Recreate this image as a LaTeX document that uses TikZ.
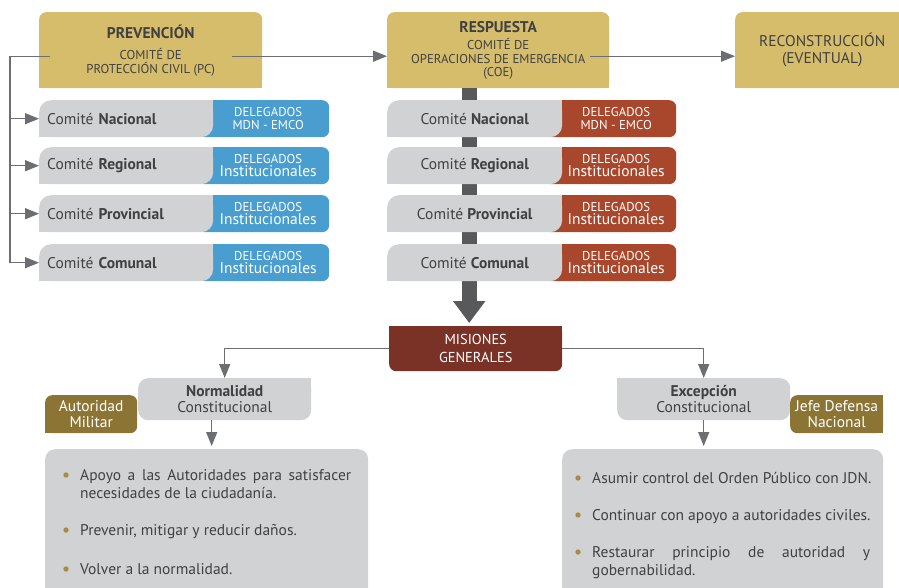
\documentclass[tikz,border=0pt]{standalone}
\usepackage{fontspec}
\setmainfont{PT Sans}
\usetikzlibrary{arrows.meta}

\definecolor{gold}{HTML}{D5BD6C}
\definecolor{boxgray}{HTML}{D1D2D4}
\definecolor{delblue}{HTML}{499ECF}
\definecolor{delred}{HTML}{A8472C}
\definecolor{misred}{HTML}{7A3126}
\definecolor{olive}{HTML}{8C7434}
\definecolor{dot}{HTML}{A88C45}
\definecolor{ink}{HTML}{414042}
\definecolor{wire}{HTML}{6D6E71}
\definecolor{bar}{HTML}{58595B}

\newcommand{\fsz}[2]{\fontsize{#1}{#2}\selectfont}

\begin{document}
\begin{tikzpicture}[x=1pt,y=-1pt,text=ink,
  phase/.style={fill=gold, rounded corners=7pt, anchor=north west, minimum height=76pt, inner sep=0pt, align=center, font=\fsz{12.8}{13.5}},
  comite/.style={fill=boxgray, rounded corners=12pt, anchor=north west, minimum height=37pt, inner ysep=0pt, font=\fsz{15.5}{17}},
  delbox/.style={rounded corners=7pt, anchor=north west, minimum width=131pt, minimum height=37pt, inner sep=0pt},
  deltext/.style={text=white, align=center, inner sep=0pt, font=\fsz{12.8}{13.5}},
  estado/.style={fill=boxgray, rounded corners=10pt, anchor=north west, minimum width=173pt, minimum height=42pt, inner sep=0pt, align=center, font=\fsz{15.5}{16}},
  mando/.style={fill=olive, text=white, rounded corners=7pt, anchor=north west, minimum width=92pt, minimum height=38pt, inner sep=0pt, align=center, font=\fsz{15.5}{15.5}},
  lista/.style={fill=boxgray, rounded corners=10pt, anchor=north west, minimum height=150pt},
  item/.style={anchor=base west, inner sep=0pt, font=\fsz{15.5}{18}},
  conn/.style={draw=wire, line width=1.3pt, -{Triangle[length=14pt,width=11pt]}},
  rail/.style={draw=wire, line width=1.3pt}
]
\useasboundingbox (0,0) rectangle (899,587);

% fases
\node[phase, minimum width=223pt] (prev) at (39,12)
  {{\fsz{15.5}{17}\bfseries PREVENCIÓN}\\[8pt]COMITÉ DE\\PROTECCIÓN CIVIL (PC)};
\fill[gold] (prev.south west) rectangle ++(8pt,8pt);
\fill[gold] (prev.south east) rectangle ++(-8pt,8pt);

\node[phase, minimum width=222pt] (coe) at (387,12)
  {{\fsz{15.5}{17}\bfseries RESPUESTA}\\[4pt]COMITÉ DE\\OPERACIONES DE EMERGENCIA\\(COE)};
\fill[gold] (coe.south west) rectangle ++(8pt,8pt);
\fill[gold] (coe.south east) rectangle ++(-8pt,8pt);

\node[phase, minimum width=174pt, font=\fsz{15.5}{17}] (rec) at (735,12)
  {RECONSTRUCCIÓN\\(EVENTUAL)};
\fill[gold] (rec.south west) rectangle ++(8pt,8pt);

\coordinate (pcL) at ([xshift=11pt,yshift=-6pt]prev.west);
\coordinate (pcR) at ([xshift=-30pt,yshift=-6pt]prev.east);
\coordinate (coeR) at ([xshift=-19pt,yshift=-6pt]coe.east);
\coordinate (rail) at ([xshift=-40pt]pcL);
\draw[conn] (pcR) -- (pcR -| coe.west);
\draw[conn] (coeR) -- (coeR -| rec.west);

% misiones y barra central
\node[fill=misred, text=white, rounded corners=7pt, anchor=north west, minimum width=173pt,
  minimum height=45pt, inner sep=0pt, align=center, font=\fsz{14.4}{18}] (mis) at (389,326)
  {MISIONES\\GENERALES};
\fill[misred] (mis.north west) rectangle ++(8pt,-8pt);
\fill[misred] (mis.north east) rectangle ++(-8pt,-8pt);

\coordinate (barTop) at ([xshift=-29pt]coe.south);
\draw[draw=bar, line width=15pt, shorten >=3pt, -{Triangle[length=22pt,width=31pt]}]
  (barTop) -- (barTop |- mis.north);

% comites
\foreach \yy/\lvl/\dlg [count=\i] in {100/Nacional/{MDN - EMCO},
    147/Regional/{\fsz{15.5}{15}Institucionales},
    195/Provincial/{\fsz{15.5}{15}Institucionales},
    244/Comunal/{\fsz{15.5}{15}Institucionales}}
{
  % prevencion
  \node[delbox, fill=delblue] (bl\i) at (198,\yy) {};
  \node[deltext] (blt\i) at ([xshift=4.5pt]bl\i.center) {DELEGADOS\\\dlg};
  \node[comite, minimum width=174pt, text width=158pt, inner xsep=8pt, align=left] (pc\i) at (39,\yy)
    {Comité \textbf{\lvl}};
  \fill[boxgray] (pc\i.north east) rectangle ++(-12pt,-12pt);
  \fill[boxgray] (pc\i.south west) rectangle ++(12pt,12pt);
  \draw[conn] (rail |- pc\i.west) -- (pc\i.west);
  % respuesta
  \node[delbox, fill=delred] (rd\i) at (545,\yy) {};
  \node[deltext] (rdt\i) at ([xshift=5.5pt]rd\i.center) {DELEGADOS\\\dlg};
  \node[comite, minimum width=175pt, inner xsep=0pt] (rc\i) at (387,\yy)
    {Comité \textbf{\lvl}};
  \fill[boxgray] (rc\i.north east) rectangle ++(-12pt,-12pt);
  \fill[boxgray] (rc\i.south west) rectangle ++(12pt,12pt);
}
\draw[rail] (pcL) -- (rail) -- (rail |- pc4.west);

% estados
\node[estado] (norm) at (138,378) {\textbf{Normalidad}\\Constitucional};
\fill[boxgray] (norm.north east) rectangle ++(-10pt,-10pt);
\node[estado] (exc) at (617,378) {\textbf{Excepción}\\Constitucional};
\fill[boxgray] (exc.north west) rectangle ++(10pt,-10pt);

\node[mando] (mil) at (45,395) {Autoridad\\Militar};
\fill[olive] (mil.south west) rectangle ++(7pt,7pt);
\node[mando, minimum width=93pt] (jdn) at (790,395) {Jefe Defensa\\Nacional};
\fill[olive] (jdn.north east) rectangle ++(-7pt,-7pt);
\fill[olive] (jdn.south east) rectangle ++(-7pt,7pt);

\node[lista, minimum width=323pt] (lsN) at (45,449) {};
\node[lista, minimum width=321pt] (lsE) at (562,449) {};

\draw[conn] (mis.west) -| (norm.north);
\draw[conn] (mis.east) -| (exc.north);
\draw[conn, shorten >=3pt] ([xshift=-13pt]norm.south) -- ([xshift=-13pt]norm.south |- lsN.north);
\draw[conn, shorten >=3pt] (exc.south) -- (exc.south |- lsE.north);

% tareas
\node[item, text width=271pt, align=justify] (n1) at (80,480)
  {Apoyo a las Autoridades para satisfacer\linebreak necesidades de la ciudadanía.};
\node[item] (n2) at (80,535) {Prevenir, mitigar y reducir daños.};
\node[item] (n3) at (80,574) {Volver a la normalidad.};
\node[item] (e1) at (592,483) {Asumir control del Orden Público con JDN.};
\node[item] (e2) at (592,520) {Continuar con apoyo a autoridades civiles.};
\node[item, text width=278pt, align=justify] (e3) at (592,557)
  {Restaurar principio de autoridad y\linebreak gobernabilidad.};
\foreach \b in {n1,n2,n3,e1,e2,e3}
  \fill[dot] ([xshift=-14pt,yshift=5pt]\b.base west) circle (2.7pt);

\end{tikzpicture}
\end{document}
